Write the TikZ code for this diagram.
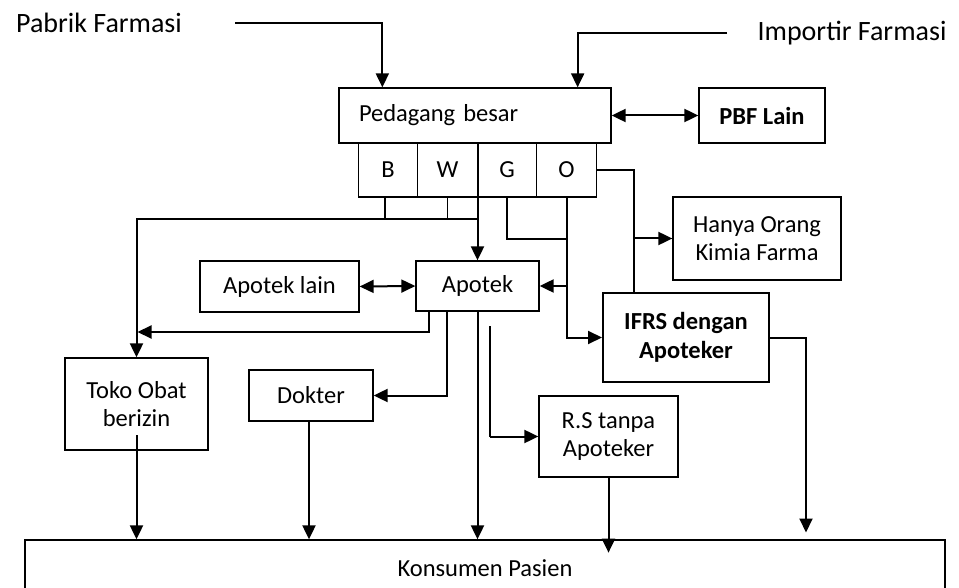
\documentclass[tikz,border=0pt]{standalone}
\usepackage{fontspec}
\setmainfont{Carlito}
\usetikzlibrary{arrows.meta,calc}

\begin{document}
\begin{tikzpicture}[
    x=1pt, y=-1pt,
    every node/.style={font=\fontsize{24.5}{28.5}\selectfont},
    box/.style={draw, line width=1.3pt, inner sep=0pt, align=center},
    cell/.style={box, minimum width=59.5pt, minimum height=54pt},
    source/.style={font=\fontsize{28}{34}\selectfont},
    line/.style={line width=2pt},
    thinline/.style={line width=1.2pt},
    arr/.style={line, -{Triangle[length=14pt,width=13pt]}},
    darr/.style={line, {Triangle[length=14pt,width=13pt]}-{Triangle[length=14pt,width=13pt]}},
]
\useasboundingbox (0,0) rectangle (959,588);

% suppliers
\node[source] (pabrik) at (99,23) {Pabrik Farmasi};
\node[source] (importir) at (852,33) {Importir Farmasi};

% wholesaler and its groups
\node[box, minimum width=272pt, minimum height=55pt, text width=232pt, align=left] (ped) at (475,115.5) {Pedagang besar};
\node[box, minimum width=126pt, minimum height=55pt, font=\fontsize{24.5}{28.5}\selectfont\bfseries] (pbf) at (762,115.5) {PBF Lain};
\node[cell] (b) at (388,170) {B};
\node[cell] (w) at (447.5,170) {W};
\node[cell] (g) at (507,170) {G};
\node[cell] (o) at (566.5,170) {O};

% outlets
\node[box, minimum width=168pt, minimum height=83pt] (hanya) at (757,238.5) {Hanya Orang\\Kimia Farma};
\node[box, minimum width=123pt, minimum height=50pt] (apotek) at (477.5,286) {Apotek};
\node[box, minimum width=159pt, minimum height=51pt] (lain) at (279.5,286.5) {Apotek lain};
\node[box, line width=2pt, minimum width=166pt, minimum height=89pt, font=\fontsize{24.5}{28.5}\selectfont\bfseries] (ifrs) at (686,337.5) {IFRS dengan\\Apoteker};
\node[box, minimum width=143pt, minimum height=92pt] (toko) at (136.5,404) {Toko Obat\\berizin};
\node[box, minimum width=124pt, minimum height=51pt] (dokter) at (311,395.5) {Dokter};
\node[box, minimum width=139pt, minimum height=81pt] (rs) at (608.5,436.5) {R.S tanpa\\Apoteker};
\node[box, minimum width=920pt, minimum height=56pt] (kons) at (485,568) {Konsumen Pasien};

% junctions
\coordinate (jBW) at (477,219);
\coordinate (jGO) at (566,239);
\coordinate (jO) at (634,238.5);
\coordinate (jRS) at (490,326);

% supply lines
\draw[arr] ([xshift=50pt]pabrik.east) -| ([xshift=44pt]ped.north west);
\draw[arr] ([xshift=-27pt]importir.west) -| ([xshift=-34pt]ped.north east);
\draw[darr] (ped.east) -- (pbf.west);
\draw[arr] (apotek.north |- ped.south) -- (apotek.north);
\draw[thinline] ([xshift=-3pt]b.south) -- ([xshift=-3pt]b.south |- jBW);
\draw[thinline] (w.south) -- (w.south |- jBW);
\draw[arr] (jBW) -| (toko.north);
\draw[thinline] (g.south) |- (jGO);
\draw[arr] (o.south) |- (ifrs.west);
\draw[arr] (o.south |- apotek.east) -- (apotek.east);
\draw[line] (o.east) -| (jO);
\draw[thinline] (jO) -- (jO |- ifrs.north);
\draw[arr] (jO) -- (hanya.west);

% from apotek
\draw[darr] (lain.east) -- (apotek.west);
\draw[arr] ([xshift=14pt]apotek.south west) |- ([xshift=1pt]toko.north |- 0,332);
\draw[arr] ([xshift=32pt]apotek.south west) |- (dokter.east);
\draw[line] (jRS) -- (jRS |- rs.west);
\draw[arr] (jRS |- rs.west) -- (rs.west);

% to consumers
\draw[arr] ([yshift=-31pt]toko.center) -- (toko.center |- kons.north);
\draw[arr] ([xshift=-2pt]dokter.south) -- ([xshift=-2pt]dokter.south |- kons.north);
\draw[arr] (apotek.south) -- (apotek.south |- kons.north);
\draw[arr] (rs.south) -- ++(0,75);
\draw[arr] (ifrs.east) -- ++(36,0) -- ++(0,195);
\end{tikzpicture}
\end{document}
